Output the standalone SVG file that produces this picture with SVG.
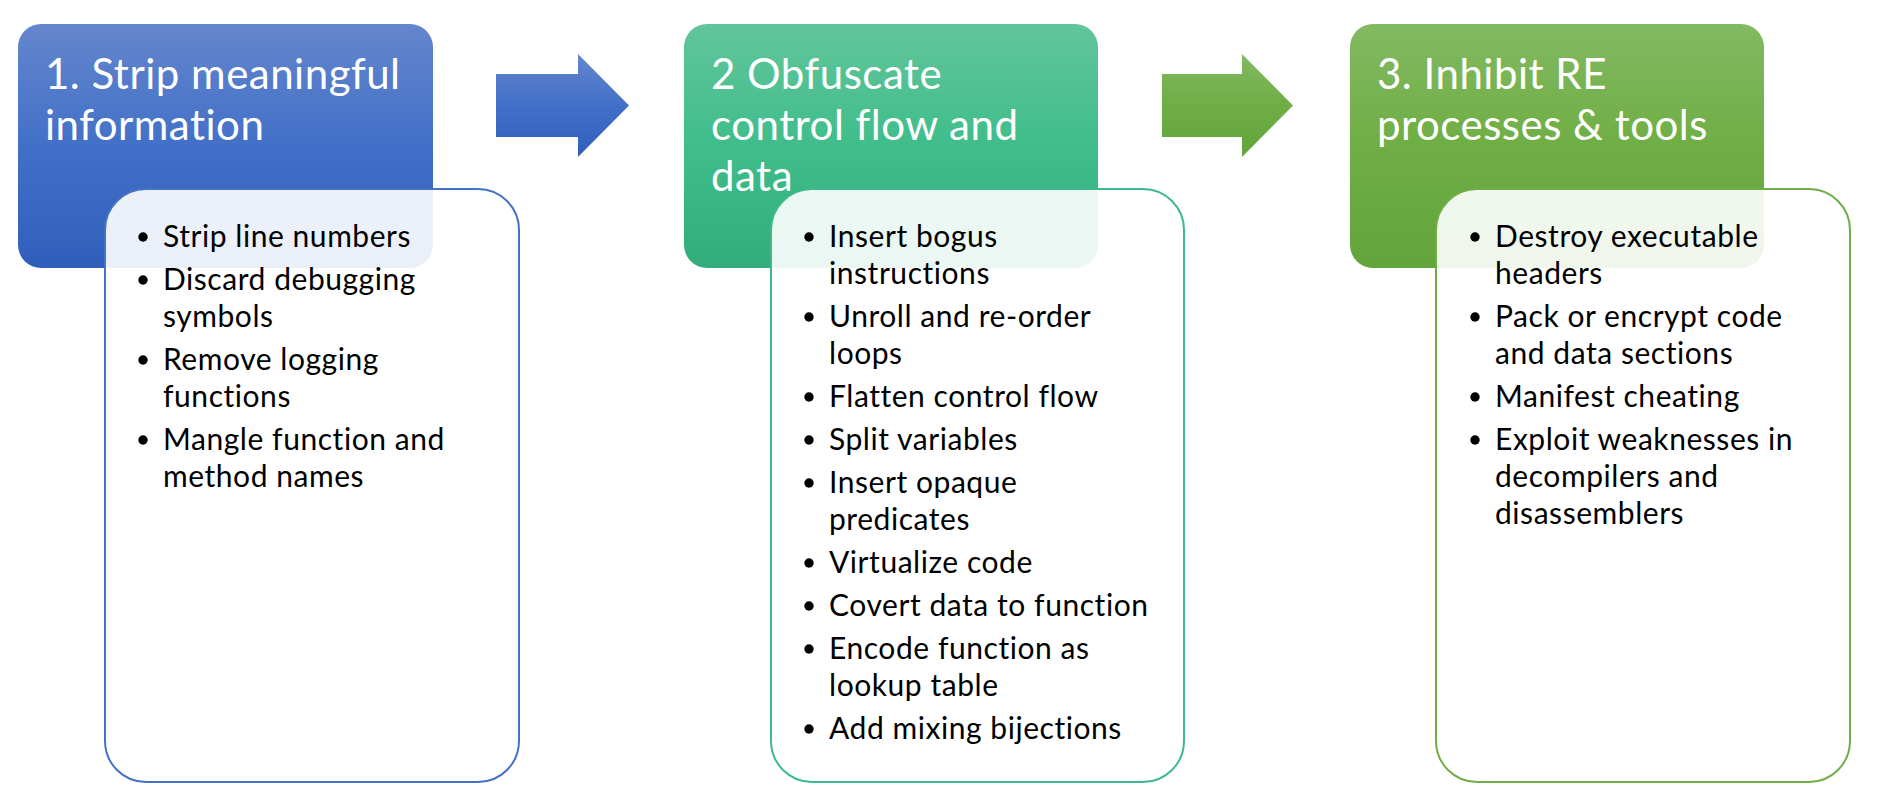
<svg xmlns="http://www.w3.org/2000/svg" width="1886" height="810" viewBox="0 0 1886 810">
<defs>
<linearGradient id="gBlue" x1="0" y1="0" x2="0" y2="1">
<stop offset="0" stop-color="#6586cd"/><stop offset="0.5" stop-color="#4270c8"/><stop offset="1" stop-color="#305fbb"/>
</linearGradient>
<linearGradient id="gTeal" x1="0" y1="0" x2="0" y2="1">
<stop offset="0" stop-color="#62c59b"/><stop offset="0.5" stop-color="#3fbd8b"/><stop offset="1" stop-color="#30ad7a"/>
</linearGradient>
<linearGradient id="gGreen" x1="0" y1="0" x2="0" y2="1">
<stop offset="0" stop-color="#82b962"/><stop offset="0.5" stop-color="#6fae45"/><stop offset="1" stop-color="#62a53a"/>
</linearGradient>
<style>
.hd{font-family:Lato,"Open Sans","Liberation Sans",sans-serif;font-size:42px;fill:#ffffff;letter-spacing:0.5px}
.bt{font-family:Lato,"Open Sans","Liberation Sans",sans-serif;font-size:30px;fill:#000000;letter-spacing:0.55px}
.det{fill:#ffffff;fill-opacity:0.9;stroke-width:2}
.dot{fill:#000000}
</style>
</defs>
<g id="connectors">
<path d="M496,74 H578 V54 L629,105.5 L578,157 V137 H496 Z" fill="url(#gBlue)"/>
<path d="M1162,74 H1242 V54 L1293,105.5 L1242,157 V137 H1162 Z" fill="url(#gGreen)"/>
</g>
<g id="node1">
<rect x="18" y="24" width="415" height="244" rx="23" fill="url(#gBlue)"/>
<text class="hd" x="45" y="89">1. Strip meaningful</text>
<text class="hd" x="45" y="140">information</text>
<rect class="det" x="105" y="189" width="414" height="593" rx="41" stroke="#4472c4"/>
<circle class="dot" cx="143" cy="237" r="4.7"/><text class="bt" x="163" y="247">Strip line numbers</text>
<circle class="dot" cx="143" cy="280" r="4.7"/><text class="bt" x="163" y="290">Discard debugging</text>
<text class="bt" x="163" y="327">symbols</text>
<circle class="dot" cx="143" cy="360" r="4.7"/><text class="bt" x="163" y="370">Remove logging</text>
<text class="bt" x="163" y="407">functions</text>
<circle class="dot" cx="143" cy="440" r="4.7"/><text class="bt" x="163" y="450">Mangle function and</text>
<text class="bt" x="163" y="487">method names</text>
</g>
<g id="node2">
<rect x="684" y="24" width="414" height="244" rx="23" fill="url(#gTeal)"/>
<text class="hd" x="711" y="89">2 Obfuscate</text>
<text class="hd" x="711" y="140">control flow and</text>
<text class="hd" x="711" y="191">data</text>
<rect class="det" x="771" y="189" width="413" height="593" rx="41" stroke="#3dba8a"/>
<circle class="dot" cx="809" cy="237" r="4.7"/><text class="bt" x="829" y="247">Insert bogus</text>
<text class="bt" x="829" y="284">instructions</text>
<circle class="dot" cx="809" cy="317" r="4.7"/><text class="bt" x="829" y="327">Unroll and re-order</text>
<text class="bt" x="829" y="364">loops</text>
<circle class="dot" cx="809" cy="397" r="4.7"/><text class="bt" x="829" y="407">Flatten control flow</text>
<circle class="dot" cx="809" cy="440" r="4.7"/><text class="bt" x="829" y="450">Split variables</text>
<circle class="dot" cx="809" cy="483" r="4.7"/><text class="bt" x="829" y="493">Insert opaque</text>
<text class="bt" x="829" y="530">predicates</text>
<circle class="dot" cx="809" cy="563" r="4.7"/><text class="bt" x="829" y="573">Virtualize code</text>
<circle class="dot" cx="809" cy="606" r="4.7"/><text class="bt" x="829" y="616">Covert data to function</text>
<circle class="dot" cx="809" cy="649" r="4.7"/><text class="bt" x="829" y="659">Encode function as</text>
<text class="bt" x="829" y="696">lookup table</text>
<circle class="dot" cx="809" cy="729" r="4.7"/><text class="bt" x="829" y="739">Add mixing bijections</text>
</g>
<g id="node3">
<rect x="1350" y="24" width="414" height="244" rx="23" fill="url(#gGreen)"/>
<text class="hd" x="1377" y="89">3. Inhibit RE</text>
<text class="hd" x="1377" y="140">processes &amp; tools</text>
<rect class="det" x="1436" y="189" width="414" height="593" rx="41" stroke="#70ad47"/>
<circle class="dot" cx="1475" cy="237" r="4.7"/><text class="bt" x="1495" y="247">Destroy executable</text>
<text class="bt" x="1495" y="284">headers</text>
<circle class="dot" cx="1475" cy="317" r="4.7"/><text class="bt" x="1495" y="327">Pack or encrypt code</text>
<text class="bt" x="1495" y="364">and data sections</text>
<circle class="dot" cx="1475" cy="397" r="4.7"/><text class="bt" x="1495" y="407">Manifest cheating</text>
<circle class="dot" cx="1475" cy="440" r="4.7"/><text class="bt" x="1495" y="450">Exploit weaknesses in</text>
<text class="bt" x="1495" y="487">decompilers and</text>
<text class="bt" x="1495" y="524">disassemblers</text>
</g>
</svg>
